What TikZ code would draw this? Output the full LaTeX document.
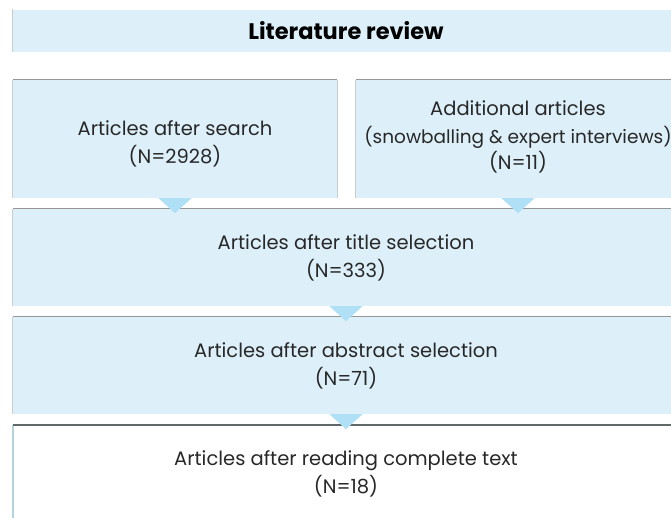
\documentclass[tikz,border=0pt]{standalone}
\usepackage{fontspec}
\setmainfont{Poppins}
\usetikzlibrary{calc}

\definecolor{boxblue}{RGB}{221,240,250}
\definecolor{tipblue}{RGB}{176,224,245}
\definecolor{rulegray}{RGB}{150,150,150}
\definecolor{sidegray}{RGB}{200,205,208}
\definecolor{darkrule}{RGB}{95,105,105}
\definecolor{sideblue}{RGB}{180,212,220}
\definecolor{txtgray}{RGB}{40,40,40}

\tikzset{
  stage/.style={fill=boxblue, inner sep=0, align=center, text=txtgray,
    font=\fontsize{19.5}{28}\selectfont},
  wide/.style={stage, minimum width=666, minimum height=97},
  half/.style={stage, minimum width=324, minimum height=118},
  caption/.style={stage, fill=none},
  sideline/.style={sidegray, line width=1.2},
  topline/.style={rulegray, line width=1.2},
  pointer/.style={fill=tipblue}
}

\begin{document}
\begin{tikzpicture}[x=1pt, y=-1pt]
\useasboundingbox (0,0) rectangle (671,517);

% heading band
\node[stage, minimum width=666, minimum height=42, text=black,
  font=\fontsize{22.5}{24}\selectfont\bfseries] (head) at (346,30.5) {Literature review};
\draw[sideline] (head.south west) -- (head.north west);

% first row, captions sit a bit off centre
\node[half] (search) at (175,139) {};
\node[half] (extra) at (518,139) {};
\node[caption] (searchlbl) at ([yshift=-5pt]search.center) {Articles after search\\(N=2928)};
\node[caption] (extralbl) at ([yshift=2pt]extra.center) {Additional articles\\[0pt]
  {\fontsize{18.5}{26}\selectfont(snowballing \& expert interviews)}\\[-2pt](N=11)};

% funnel
\node[wide] (tsel) at (346,257.5) {Articles after title selection\\(N=333)};
\node[wide] (asel) at (346,365.5) {Articles after abstract selection\\(N=71)};
\node[wide, fill=white] (ftxt) at (346,473.5) {Articles after reading complete text\\(N=18)};

\foreach \b in {search,extra,tsel,asel} {
  \draw[sideline] (\b.south west) -- (\b.north west);
  \draw[sideline] (\b.south east) -- (\b.north east);
  \draw[topline] (\b.north west) -- (\b.north east);
}
\draw[sideblue, line width=1.5] (ftxt.south west) -- (ftxt.north west);
\draw[darkrule, line width=2.2] (ftxt.north west) -- (ftxt.north east);

% pointers between the stages
\foreach \b in {search,extra,tsel,asel}
  \fill[pointer] (\b.south) ++(-16.5,0) -- ++(33,0) -- ++(-16.5,15) -- cycle;
\end{tikzpicture}
\end{document}
